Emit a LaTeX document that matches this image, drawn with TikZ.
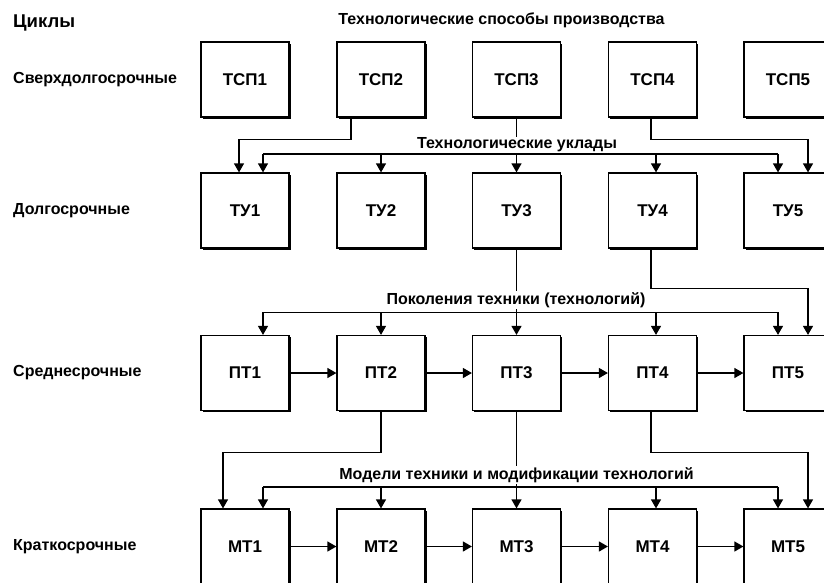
\documentclass[tikz,border=0pt]{standalone}
\usepackage{fontspec}
\setmainfont{Liberation Sans}
\usetikzlibrary{arrows.meta,shadows}
\begin{document}
\begin{tikzpicture}[x=1pt,y=-1pt,
  box/.style={draw, line width=1.2pt, minimum width=88pt, minimum height=75pt, inner sep=0pt, fill=white,
    font=\fontsize{17}{20}\selectfont\bfseries,
    drop shadow={shadow xshift=1.5pt, shadow yshift=-1.5pt, fill=black, opacity=1}},
  ln/.style={line width=1.2pt},
  arr/.style={line width=1.2pt, -{Triangle[length=9pt,width=10pt]}},
  lab/.style={font=\fontsize{16}{18}\selectfont\bfseries, inner sep=1pt, fill=white},
  side/.style={font=\fontsize{16}{18}\selectfont\bfseries, inner sep=0pt, anchor=west},
]
\useasboundingbox (0,0) rectangle (824,582);
\fill[white] (0,0) rectangle (824,582);
\clip (0,0) rectangle (824,582);

% left column
\node[side, font=\fontsize{18.5}{21}\selectfont\bfseries] (cyc) at (13,23) {Циклы};
\node[side] (s1) at (13,79.5) {Сверхдолгосрочные};
\node[side] (s2) at (13,210.5) {Долгосрочные};
\node[side] (s3) at (13,373) {Среднесрочные};
\node[side] (s4) at (13,546.5) {Краткосрочные};

% title
\node[lab] (title) at (501.5,20) {Технологические способы производства};

% boxes
\foreach \i/\x in {1/245,2/381,3/516.5,4/652.5,5/788}{
  \node[box] (tsp\i) at (\x,79.5) {ТСП\i};
  \node[box] (tu\i)  at (\x,210.5) {ТУ\i};
  \node[box] (pt\i)  at (\x,373) {ПТ\i};
  \node[box] (mt\i)  at (\x,546.5) {МТ\i};
}

% row 1 -> 2
\draw[ln] ([xshift=18pt,yshift=18.5pt]tu1.north) -- ([xshift=-10pt,yshift=18.5pt]tu5.north);
\draw[arr] ([xshift=18pt,yshift=18.5pt]tu1.north) -- ([xshift=18pt]tu1.north);
\draw[arr] ([yshift=18.5pt]tu2.north) -- (tu2.north);
\draw[arr] ([xshift=3.5pt,yshift=18.5pt]tu4.north) -- ([xshift=3.5pt]tu4.north);
\draw[arr] ([xshift=-10pt,yshift=18.5pt]tu5.north) -- ([xshift=-10pt]tu5.north);
\draw[arr] ([xshift=-30pt]tsp2.south) -- ++(0,21.5) -| ([xshift=-6pt]tu1.north);
\draw[arr] (tsp3.south) -- (tu3.north);
\draw[arr] ([xshift=-1.5pt]tsp4.south) -- ++(0,21.5) -| ([xshift=20pt]tu5.north);
\node[lab] (l1) at (517,145) {Технологические уклады};

% row 2 -> 3
\draw[ln] ([xshift=18pt,yshift=22.5pt]pt1.north) -- ([xshift=-10pt,yshift=22.5pt]pt5.north);
\draw[arr] ([xshift=18pt,yshift=22.5pt]pt1.north) -- ([xshift=18pt]pt1.north);
\draw[arr] ([yshift=22.5pt]pt2.north) -- (pt2.north);
\draw[arr] ([xshift=3.5pt,yshift=22.5pt]pt4.north) -- ([xshift=3.5pt]pt4.north);
\draw[arr] ([xshift=-10pt,yshift=22.5pt]pt5.north) -- ([xshift=-10pt]pt5.north);
\draw[arr] (tu3.south) -- (pt3.north);
\draw[arr] ([xshift=-1.5pt]tu4.south) -- ++(0,40) -| ([xshift=20pt]pt5.north);
\node[lab] (l2) at (516,300) {Поколения техники (технологий)};

% row 3 -> 4
\draw[ln] ([xshift=18pt,yshift=21.5pt]mt1.north) -- ([xshift=-10pt,yshift=21.5pt]mt5.north);
\draw[arr] ([xshift=18pt,yshift=21.5pt]mt1.north) -- ([xshift=18pt]mt1.north);
\draw[arr] ([yshift=21.5pt]mt2.north) -- (mt2.north);
\draw[arr] ([xshift=3.5pt,yshift=21.5pt]mt4.north) -- ([xshift=3.5pt]mt4.north);
\draw[arr] ([xshift=-10pt,yshift=21.5pt]mt5.north) -- ([xshift=-10pt]mt5.north);
\draw[arr] (pt2.south) -- ++(0,41.5) -| ([xshift=-22pt]mt1.north);
\draw[arr] (pt3.south) -- (mt3.north);
\draw[arr] ([xshift=-1.5pt]pt4.south) -- ++(0,41.5) -| ([xshift=20pt]mt5.north);
\node[lab] (l3) at (516.5,475) {Модели техники и модификации технологий};

% horizontal chains
\foreach \a/\b in {1/2,2/3,3/4,4/5}{
  \draw[arr] (pt\a.east) -- (pt\b.west);
  \draw[arr] (mt\a.east) -- (mt\b.west);
}
\end{tikzpicture}
\end{document}
